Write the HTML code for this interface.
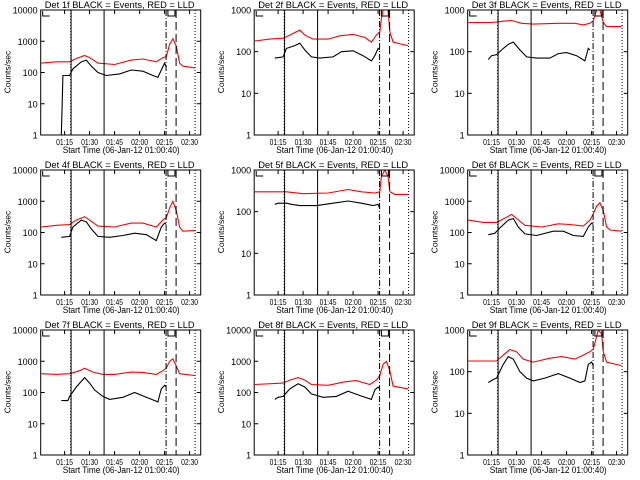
<!DOCTYPE html>
<html><head><meta charset="utf-8"><style>
html,body{margin:0;padding:0;background:#fff;}
svg{display:block;font-family:"Liberation Sans",sans-serif;}
</style></head><body>
<svg id="chart" width="640" height="480" viewBox="0 0 640 480" xmlns="http://www.w3.org/2000/svg"></svg>
<script>
const detectorNames = ["1f","2f","3f","4f","5f","6f","7f","8f","9f"];
const yMaxDecades = [4,3,3,4,3,4,4,4,3];
const xTickLabels = ["01:15","01:30","01:45","02:00","02:15","02:30"];
const xTickMinutes = [15,30,45,60,75,90];
const markerMinutes = {dot1:18.67, solid1:18.9, solid2:38.7, dashdot:75.9, dashed:81.9, dot2:93.3};
const red1=[[1,200],[10,220],[18,220],[22,280],[27,350],[30,300],[35,200],[45,180],[55,250],[62,270],[70,220],[74,300],[76,320],[78,800],[80,1200],[82,700],[84,200],[86,160],[93,140]];
const blk1=[[13,1],[13.5,8],[14,80],[18,80],[20,130],[25,220],[28,250],[31,160],[35,100],[40,80],[48,90],[55,120],[62,110],[68,80],[71,70],[73,120],[75,200],[76,150]];
const red2=[[1,180],[10,200],[18,210],[22,250],[28,330],[31,250],[36,200],[45,200],[52,240],[60,260],[67,220],[71,170],[74,250],[76,300],[77,600],[78,1000],[81,1000],[82,300],[84,170],[93,140]];
const blk2=[[13,70],[18,75],[20,120],[25,140],[28,160],[31,110],[35,75],[40,70],[48,75],[53,100],[60,105],[66,80],[71,60],[73,80],[75,120],[76,110]];
const red3=[[1,500],[15,500],[22,540],[27,560],[33,480],[40,460],[55,480],[65,480],[70,440],[74,480],[76,550],[78,1000],[80,1000],[82,500],[84,400],[93,400]];
const blk3=[[13,65],[15,80],[18,85],[22,120],[25,150],[28,170],[32,110],[36,75],[42,70],[50,70],[55,90],[60,95],[66,80],[71,60],[73,120],[74,110]];
const red4=[[1,150],[10,170],[18,180],[22,250],[27,320],[30,250],[35,160],[45,150],[55,200],[62,200],[70,150],[74,250],[76,300],[78,600],[80,1000],[82,500],[84,150],[86,110],[93,115]];
const blk4=[[13,70],[18,75],[20,150],[25,250],[28,220],[31,130],[35,75],[42,70],[50,80],[57,95],[64,85],[70,55],[73,150],[75,200],[76,180]];
const red5=[[1,300],[20,300],[30,270],[45,280],[57,340],[65,300],[73,280],[76,300],[77,700],[79,1000],[81,700],[82,300],[85,260],[93,260]];
const blk5=[[13,150],[15,160],[20,160],[23,150],[28,140],[38,140],[48,160],[57,180],[65,160],[72,140],[75,150],[76,120]];
const red6=[[1,250],[10,210],[18,210],[22,270],[27,380],[30,280],[35,170],[45,150],[55,190],[62,180],[70,160],[74,250],[76,400],[78,700],[80,900],[82,500],[84,150],[86,120],[93,110]];
const blk6=[[13,85],[17,95],[20,140],[25,250],[28,280],[31,150],[35,90],[42,80],[52,110],[58,110],[64,80],[70,75],[73,150],[75,200],[76,180]];
const red7=[[1,400],[10,380],[18,400],[24,500],[27,600],[32,450],[38,380],[45,380],[55,450],[62,440],[70,380],[74,500],[76,600],[78,1000],[80,1200],[82,700],[84,400],[93,350]];
const blk7=[[13,55],[17,55],[18,75],[22,150],[27,300],[30,200],[33,120],[38,75],[42,60],[50,70],[57,100],[64,70],[71,50],[73,130],[75,170],[76,150]];
const red8=[[1,180],[18,200],[22,250],[27,300],[31,250],[35,180],[45,170],[55,220],[62,240],[70,180],[74,250],[76,350],[78,800],[80,1000],[82,500],[84,160],[93,130]];
const blk8=[[13,60],[15,70],[18,75],[22,130],[27,190],[31,150],[35,90],[42,70],[50,75],[57,110],[64,80],[71,60],[73,120],[75,150],[76,130]];
const red9=[[1,180],[15,180],[18,180],[22,250],[26,340],[30,300],[34,200],[40,170],[50,210],[57,230],[65,200],[70,250],[74,300],[76,350],[78,700],[79,1000],[81,800],[82,300],[84,170],[93,140]];
const blk9=[[13,55],[16,65],[18,70],[22,150],[25,230],[28,200],[32,100],[36,70],[40,60],[47,70],[55,90],[62,70],[68,55],[71,60],[73,150],[75,170],[76,140]];
const redSeries=[red1,red2,red3,red4,red5,red6,red7,red8,red9];
const blackSeries=[blk1,blk2,blk3,blk4,blk5,blk6,blk7,blk8,blk9];

const NS="http://www.w3.org/2000/svg";
const svg=document.getElementById('chart');
function mk(tag,attrs,parent){const e=document.createElementNS(NS,tag);for(const k in attrs)e.setAttribute(k,attrs[k]);(parent||svg).appendChild(e);return e;}
const PW=160, PH=125;
for(let i=0;i<9;i++){
  const col=i%3,row=Math.floor(i/3);
  const L=40.7+col*213.5, T=10+row*160, R=L+PW, B=T+PH;
  const dec=yMaxDecades[i];
  const xs=t=>L+(t-0.667)*(PW/96);
  const ys=v=>B-Math.log10(Math.max(v,1))/dec*PH;
  const g=mk('g',{});
  
  
  const clipId='clip'+i;
  const cp=mk('clipPath',{id:clipId},g);mk('rect',{x:L,y:T,width:PW,height:PH},cp);
  const tt=mk('text',{x:L+4,y:T-2,'font-size':'9.5',textLength:'150',lengthAdjust:'spacingAndGlyphs'},g);
  tt.textContent='Det '+detectorNames[i]+' BLACK = Events, RED = LLD';
  
  
  const dataG=mk('g',{'clip-path':'url(#'+clipId+')'},g);
  const rp=mk('polyline',{points:redSeries[i].map(p=>xs(p[0]).toFixed(1)+','+ys(p[1]).toFixed(1)).join(' '),fill:'none',stroke:'#ff0000','stroke-width':'1.1'},dataG);
  
  
  const bp=mk('polyline',{points:blackSeries[i].map(p=>xs(p[0]).toFixed(1)+','+ys(p[1]).toFixed(1)).join(' '),fill:'none',stroke:'#000','stroke-width':'1.1'},dataG);
  
  
  const vl=(t,dash,name)=>{const l=mk('line',{x1:xs(t),x2:xs(t),y1:T,y2:B,stroke:'#000','stroke-width':'1','stroke-dasharray':dash},g);
    
    };
  vl(markerMinutes.dot1,'1,2','marker-dotted-start');
  vl(markerMinutes.solid1,'none','marker-solid-start');
  vl(markerMinutes.solid2,'none','marker-solid');
  vl(markerMinutes.dashdot,'6,2,1,2','marker-dashdot');
  vl(markerMinutes.dashed,'8,4','marker-dashed');
  vl(markerMinutes.dot2,'1,2','marker-dotted-end');
  mk('rect',{x:xs(77),y:T,width:7,height:6,fill:'none',stroke:'#000','stroke-width':'1'},g);
  mk('path',{d:`M${L+2} ${T+1} V${T+6} H${L+9}`,fill:'none',stroke:'#000','stroke-width':'1'},g);
  const ax=mk('rect',{x:L,y:T,width:PW,height:PH,fill:'none',stroke:'#000','stroke-width':'1'},g);
  
  
  for(let d=0;d<=dec;d++){
    const y=B-d/dec*PH;
    mk('line',{x1:L,x2:L+4,y1:y,y2:y,stroke:'#000'},g);
    mk('line',{x1:R-4,x2:R,y1:y,y2:y,stroke:'#000'},g);
    const lb=mk('text',{x:L-3,y:y+3.5,'font-size':'9','text-anchor':'end'},g);
    lb.textContent=String(Math.pow(10,d));
    
    
  }
  for(let k=0;k<xTickMinutes.length;k++){
    const x=xs(xTickMinutes[k]);
    mk('line',{x1:x,x2:x,y1:B,y2:B-4,stroke:'#000'},g);
    mk('line',{x1:x,x2:x,y1:T,y2:T+4,stroke:'#000'},g);
    const lb=mk('text',{x:x,y:B+10,'font-size':'8.5','text-anchor':'middle',textLength:'17',lengthAdjust:'spacingAndGlyphs'},g);
    lb.textContent=xTickLabels[k];
    
    
  }
  const xt=mk('text',{x:L+22,y:B+18,'font-size':'9',textLength:'117',lengthAdjust:'spacingAndGlyphs'},g);
  xt.textContent='Start Time (06-Jan-12 01:00:40)';
  
  
  const yt=mk('text',{x:0,y:0,'font-size':'8.5','text-anchor':'middle',transform:`translate(${L-30},${T+62}) rotate(-90)`},g);
  yt.textContent='Counts/sec';
  
  
}
</script>
</body></html>
